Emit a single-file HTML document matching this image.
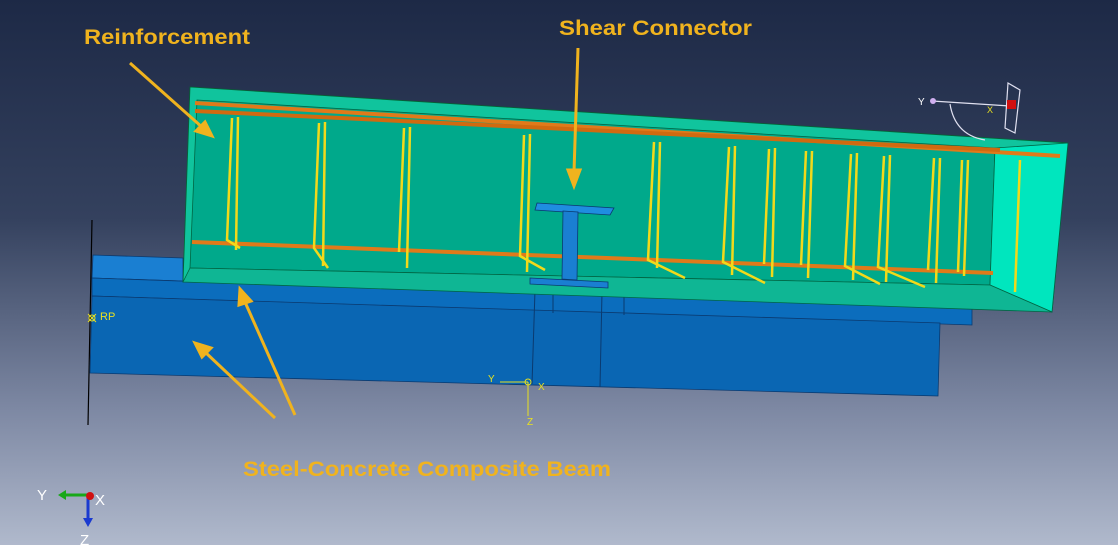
<!DOCTYPE html>
<html><head><meta charset="utf-8"><style>
html,body{margin:0;padding:0;width:1118px;height:545px;overflow:hidden;}
body{background:linear-gradient(to bottom,#1d2946 0%,#34415e 40%,#7d88a3 75%,#b0b9cc 100%);}
svg{position:absolute;left:0;top:0;}
text{font-family:"Liberation Sans",sans-serif;}
</style></head><body>
<svg width="1118" height="545" viewBox="0 0 1118 545">
<!-- steel beam -->
<line x1="92" y1="220" x2="88" y2="425" stroke="#000" stroke-width="1.2"/>
<polygon points="93,255 183,258 183,280 940,290 972,308 92,278" fill="#1a7fd2" stroke="#0a3a70" stroke-width="0.8"/>
<polygon points="92,278 972,308 972,325 92,296" fill="#0b6dbd" stroke="#0a3a70" stroke-width="0.8"/>
<polygon points="92,296 940,323 938,396 90,373" fill="#0a66b3" stroke="#0a3a70" stroke-width="0.8"/>
<line x1="535" y1="290" x2="532" y2="384" stroke="#0a3a70"/>
<line x1="602" y1="292" x2="600" y2="387" stroke="#0a3a70"/>
<line x1="553" y1="290" x2="553" y2="313" stroke="#0a3a70"/>
<line x1="624" y1="293" x2="624" y2="315" stroke="#0a3a70"/>
<!-- slab -->
<polygon points="190,87 1068,143 1052,312 940,290 183,282" fill="#10c49d" stroke="#063" stroke-width="0.8"/>
<polygon points="197,100 995,148 990,285 190,268" fill="#00a98b" stroke="#064" stroke-width="0.8"/>
<polygon points="995,148 1068,143 1052,312 990,285" fill="#00e6be" stroke="#064" stroke-width="0.8"/>
<polygon points="190,268 990,285 1052,312 183,282" fill="#0fb694" stroke="#064" stroke-width="0.8"/>
<!-- rebars -->
<line x1="195" y1="103" x2="1060" y2="156" stroke="#e07a1a" stroke-width="4"/>
<line x1="195" y1="111" x2="1000" y2="150" stroke="#d06a10" stroke-width="4"/>
<line x1="192" y1="242" x2="993" y2="273" stroke="#e07a1a" stroke-width="4"/>
<g stroke="#f2d91a" stroke-width="2.5" fill="none">
<path d="M238,117 L236,250 M232,118 L227,240 L240,248"/>
<path d="M325,122 L323,266 M319,123 L314,248 L328,268"/>
<path d="M410,127 L407,268 M404,128 L399,252"/>
<path d="M530,134 L527,272 M524,135 L520,256 L545,270"/>
<path d="M660,142 L657,268 M654,142 L648,260 L685,278"/>
<path d="M735,146 L732,275 M729,147 L723,262 L765,283"/>
<path d="M775,148 L772,277 M769,149 L764,264"/>
<path d="M812,151 L808,278 M806,151 L801,265"/>
<path d="M857,153 L853,280 M851,154 L845,266 L880,284"/>
<path d="M890,155 L886,282 M884,156 L878,267 L925,287"/>
<path d="M940,158 L936,283 M934,158 L928,270"/>
<path d="M968,160 L964,276 M962,160 L958,272"/>
<path d="M1020,160 L1015,292"/>
</g>
<!-- shear connector -->
<polygon points="537,203 614,208 610,215 535,210" fill="#1f8de0" stroke="#0a3a70" stroke-width="0.8"/>
<polygon points="563,211 578,212 577,280 562,279" fill="#1a7fd2" stroke="#0a3a70" stroke-width="0.8"/>
<polygon points="530,278 608,282 608,288 530,284" fill="#1a7fd2" stroke="#0a3a70" stroke-width="0.8"/>
<!-- arrows -->
<g stroke="#f0b31e" stroke-width="3" fill="#f0b31e">
<line x1="130" y1="63" x2="203" y2="128"/><polygon points="212,136 196,131 205,122"/>
<line x1="578" y1="48" x2="574" y2="172"/><polygon points="574,186 568,170 580,170"/>
<line x1="295" y1="415" x2="245" y2="302"/><polygon points="240,289 251,301 239,305"/>
<line x1="275" y1="418" x2="205" y2="352"/><polygon points="195,343 211,348 202,357"/>
</g>
<text x="84" y="44" font-size="21" font-weight="bold" fill="#f0b31e" textLength="166" lengthAdjust="spacingAndGlyphs">Reinforcement</text>
<text x="559" y="35" font-size="21" font-weight="bold" fill="#f0b31e" textLength="193" lengthAdjust="spacingAndGlyphs">Shear Connector</text>
<text x="243" y="476" font-size="21" font-weight="bold" fill="#f0b31e" textLength="368" lengthAdjust="spacingAndGlyphs">Steel-Concrete Composite Beam</text>
<!-- RP -->
<g stroke="#e8e020" fill="none" stroke-width="1"><circle cx="92" cy="318" r="3"/><line x1="88" y1="314" x2="96" y2="322"/><line x1="96" y1="314" x2="88" y2="322"/></g>
<text x="100" y="320" font-size="11" fill="#e8e020">RP</text>
<!-- center triad -->
<g stroke="#e8e020" stroke-width="1" fill="none"><line x1="500" y1="382" x2="528" y2="382"/><line x1="528" y1="382" x2="528" y2="416"/><circle cx="528" cy="382" r="3"/></g>
<text x="488" y="382" font-size="10" fill="#e8e020">Y</text><text x="538" y="390" font-size="10" fill="#e8e020">X</text><text x="527" y="425" font-size="10" fill="#e8e020">Z</text>
<!-- top-right csys -->
<g stroke="#e0e0f0" fill="none" stroke-width="1.2"><line x1="932" y1="101" x2="1010" y2="106"/><path d="M950,104 Q955,135 985,140"/><path d="M1008,83 L1020,90 L1015,133 L1005,128 Z"/></g>
<circle cx="933" cy="101" r="3" fill="#d0b0f0"/><rect x="1007" y="100" width="9" height="9" fill="#d01010"/>
<text x="918" y="105" font-size="10" fill="#fff">Y</text><text x="987" y="113" font-size="9" fill="#e8e020">X</text>
<!-- global triad -->
<line x1="88" y1="495" x2="62" y2="495" stroke="#18a818" stroke-width="3"/><polygon points="58,495 66,490 66,500" fill="#18a818"/>
<line x1="88" y1="495" x2="88" y2="520" stroke="#1a3ad0" stroke-width="3"/><polygon points="88,527 83,518 93,518" fill="#1a3ad0"/>
<circle cx="90" cy="496" r="4" fill="#d01010"/>
<text x="37" y="500" font-size="15" fill="#fff">Y</text><text x="95" y="505" font-size="15" fill="#fff">X</text><text x="80" y="545" font-size="15" fill="#fff">Z</text>
</svg>
</body></html>
